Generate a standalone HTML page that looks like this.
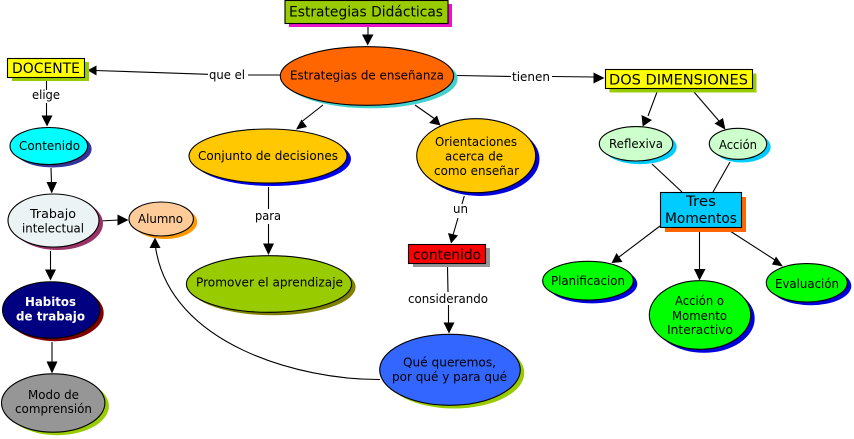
<!DOCTYPE html>
<html><head><meta charset="utf-8"><style>
html,body{margin:0;padding:0;background:#fff}
svg{display:block}
text{font-family:"DejaVu Sans","Liberation Sans",sans-serif;font-size:12.5px;fill:#000}
.b{font-size:14px}
line,path.c{stroke:#000;stroke-width:1.1;fill:none}
polygon{fill:#000}
ellipse.n,rect.n{stroke:#000;stroke-width:1.1}
</style></head><body>
<svg width="854" height="439" viewBox="0 0 854 439" xmlns="http://www.w3.org/2000/svg">
<rect width="854" height="439" fill="#fff"/>
<!-- connectors -->
<line x1="368" y1="26" x2="368" y2="36"/><polygon points="367.7,45.5 362,34.5 373.5,34.5"/>
<line x1="280" y1="75" x2="248" y2="75"/><line x1="208" y1="74.3" x2="95" y2="70.5"/><polygon points="87.5,70.3 96.5,65.5 96.5,75.5"/>
<line x1="46.5" y1="81" x2="46.5" y2="90"/><line x1="46.5" y1="103" x2="46.5" y2="117"/><polygon points="47,126.5 41.5,115.5 52.5,115.5"/>
<line x1="51" y1="168" x2="51.5" y2="183"/><polygon points="51.7,193.5 46.5,182 57,182"/>
<line x1="100" y1="221" x2="119" y2="220"/><polygon points="128.5,220 117.5,214.5 117.5,225.5"/>
<line x1="50.5" y1="251" x2="50.5" y2="271"/><polygon points="50.5,280.5 45,269.5 56,269.5"/>
<line x1="52" y1="342" x2="52" y2="363"/><polygon points="52,373.5 46.5,361.5 57.5,361.5"/>
<path class="c" d="M380 379.5C300 380 170 345 155.5 247"/><polygon points="155,237.5 149.5,248 160.5,248"/>
<line x1="323" y1="105" x2="300" y2="123"/><polygon points="296,129.5 301.5,119.5 307,127"/>
<line x1="415" y1="105" x2="435" y2="119"/><polygon points="440.5,125.5 437,115.5 429,123"/>
<line x1="268.5" y1="187" x2="268.5" y2="209"/><line x1="268.5" y1="224" x2="268.5" y2="245"/><polygon points="268.5,255 263,243.5 274,243.5"/>
<line x1="464.3" y1="196" x2="462" y2="204"/><line x1="458" y1="218" x2="453" y2="235"/><polygon points="451,243.5 448,233 458,235.5"/>
<line x1="447.5" y1="267" x2="448" y2="292"/><line x1="448.5" y1="305" x2="448.5" y2="324"/><polygon points="449,333.5 443.5,322.5 454.5,322.5"/>
<line x1="457" y1="75.5" x2="511" y2="76.5"/><line x1="552" y1="76.5" x2="595" y2="77"/><polygon points="604.5,78 593.5,72.5 593.5,83.5"/>
<line x1="657" y1="92" x2="648" y2="116"/><polygon points="642.7,126.5 641.5,115 652,120"/>
<line x1="694" y1="92" x2="719" y2="121"/><polygon points="725.5,129.8 714.5,123.5 723,118"/>
<line x1="652" y1="164" x2="682" y2="192"/><line x1="730" y1="162" x2="713" y2="192"/>
<line x1="660" y1="226" x2="619" y2="257"/><polygon points="611.5,263 616.5,253 622.5,262"/>
<line x1="699.5" y1="231" x2="699.5" y2="270"/><polygon points="699.5,280.5 694,269 705.5,269"/>
<line x1="730" y1="231" x2="775" y2="260"/><polygon points="783,266.5 776,256.5 772,264.5"/>
<!-- link labels -->
<text x="209" y="79" textLength="36" lengthAdjust="spacingAndGlyphs">que el</text>
<text x="32" y="99" textLength="28" lengthAdjust="spacingAndGlyphs">elige</text>
<text x="255" y="220" textLength="26" lengthAdjust="spacingAndGlyphs">para</text>
<text x="453" y="213" textLength="15" lengthAdjust="spacingAndGlyphs">un</text>
<text x="408" y="303" textLength="80" lengthAdjust="spacingAndGlyphs">considerando</text>
<text x="512" y="81" textLength="38" lengthAdjust="spacingAndGlyphs">tienen</text>
<!-- Estrategias Didácticas -->
<rect x="289" y="4" width="163" height="23" fill="#e815c8"/><rect class="n" x="285" y="0.5" width="163" height="23" fill="#99cc00"/>
<text class="b" x="289" y="16.5" textLength="154" lengthAdjust="spacingAndGlyphs">Estrategias Didácticas</text>
<!-- Estrategias de enseñanza -->
<ellipse cx="371" cy="79" rx="86.7" ry="29.3" fill="#45d0d0"/><ellipse class="n" cx="367" cy="76" rx="86.7" ry="29.3" fill="#ff6600"/>
<text x="290" y="79.5" textLength="154" lengthAdjust="spacingAndGlyphs">Estrategias de enseñanza</text>
<!-- DOCENTE -->
<rect x="12" y="62" width="77" height="19" fill="#99cc00"/><rect class="n" x="7.5" y="58.5" width="77" height="19" fill="#ffff00"/>
<text class="b" x="12" y="73" textLength="68" lengthAdjust="spacingAndGlyphs">DOCENTE</text>
<!-- Contenido -->
<ellipse cx="52.8" cy="149" rx="38.8" ry="18.5" fill="#333399"/><ellipse class="n" cx="48.8" cy="146" rx="38.8" ry="18.5" fill="#00ffff"/>
<text x="19" y="150" textLength="61" lengthAdjust="spacingAndGlyphs">Contenido</text>
<!-- Trabajo intelectual -->
<ellipse cx="57.5" cy="223.5" rx="45.5" ry="26.5" fill="#993366"/><ellipse class="n" cx="53.5" cy="220.5" rx="45.5" ry="26.5" fill="#ebf3f5"/>
<text x="30" y="218" textLength="46" lengthAdjust="spacingAndGlyphs">Trabajo</text>
<text x="22" y="232.5" textLength="62" lengthAdjust="spacingAndGlyphs">intelectual</text>
<!-- Alumno -->
<ellipse cx="165" cy="222" rx="32.2" ry="17" fill="#ff9900"/><ellipse class="n" cx="161.2" cy="219" rx="32.2" ry="17" fill="#ffcc99"/>
<text x="138" y="223" textLength="45" lengthAdjust="spacingAndGlyphs">Alumno</text>
<!-- Habitos -->
<ellipse cx="55" cy="313" rx="48.7" ry="28.2" fill="#800000"/><ellipse class="n" cx="51.2" cy="310" rx="48.7" ry="28.2" fill="#000080"/>
<text x="25" y="306" textLength="51" lengthAdjust="spacingAndGlyphs" font-weight="bold" style="fill:#fff">Habitos</text>
<text x="16" y="320.7" textLength="69" lengthAdjust="spacingAndGlyphs" font-weight="bold" style="fill:#fff">de trabajo</text>
<!-- Modo -->
<ellipse cx="57.2" cy="406" rx="51.7" ry="29.2" fill="#99cc00"/><ellipse class="n" cx="53.2" cy="403" rx="51.7" ry="29.2" fill="#969696"/>
<text x="28" y="399" textLength="51" lengthAdjust="spacingAndGlyphs">Modo de</text>
<text x="15" y="413" textLength="77" lengthAdjust="spacingAndGlyphs">comprensión</text>
<!-- Conjunto -->
<ellipse cx="272" cy="159" rx="79" ry="27" fill="#0000ee"/><ellipse class="n" cx="268" cy="156" rx="79" ry="27" fill="#ffc800"/>
<text x="198" y="160" textLength="140" lengthAdjust="spacingAndGlyphs">Conjunto de decisiones</text>
<!-- Promover -->
<ellipse cx="273" cy="287" rx="82.6" ry="28.3" fill="#808000"/><ellipse class="n" cx="269" cy="284" rx="82.6" ry="28.3" fill="#99cc00"/>
<text x="196" y="286.7" textLength="147" lengthAdjust="spacingAndGlyphs">Promover el aprendizaje</text>
<!-- Orientaciones -->
<ellipse cx="480" cy="159" rx="59.5" ry="37" fill="#0000dd"/><ellipse class="n" cx="476.2" cy="155.7" rx="59.5" ry="37" fill="#ffc800"/>
<text x="435" y="146" textLength="82" lengthAdjust="spacingAndGlyphs">Orientaciones</text>
<text x="445" y="160.5" textLength="58" lengthAdjust="spacingAndGlyphs">acerca de</text>
<text x="434" y="175" textLength="85" lengthAdjust="spacingAndGlyphs">como enseñar</text>
<!-- contenido box -->
<rect x="413" y="248" width="77" height="19" fill="#969696"/><rect class="n" x="408.5" y="244.5" width="77" height="19" fill="#ff0000"/>
<text class="b" x="413" y="259.3" textLength="68" lengthAdjust="spacingAndGlyphs">contenido</text>
<!-- Qué queremos -->
<ellipse cx="454" cy="373" rx="70.3" ry="35.5" fill="#99cc00"/><ellipse class="n" cx="450" cy="369.8" rx="70.3" ry="35.5" fill="#3366ff"/>
<text x="403" y="366.7" textLength="93" lengthAdjust="spacingAndGlyphs">Qué queremos,</text>
<text x="392" y="381" textLength="115" lengthAdjust="spacingAndGlyphs">por qué y para qué</text>
<!-- DOS DIMENSIONES -->
<rect x="609.5" y="73.5" width="147" height="19" fill="#99cc00"/><rect class="n" x="605.5" y="69.5" width="147" height="19" fill="#ffff00"/>
<text class="b" x="609" y="84.3" textLength="139" lengthAdjust="spacingAndGlyphs">DOS DIMENSIONES</text>
<!-- Reflexiva -->
<ellipse cx="640" cy="147" rx="36.7" ry="17.2" fill="#00ccff"/><ellipse class="n" cx="636" cy="143.8" rx="36.7" ry="17.2" fill="#ccffcc"/>
<text x="609" y="148" textLength="54" lengthAdjust="spacingAndGlyphs">Reflexiva</text>
<!-- Acción -->
<ellipse cx="742" cy="147" rx="28.7" ry="15.5" fill="#00ccff"/><ellipse class="n" cx="738" cy="143.8" rx="28.7" ry="15.5" fill="#ccffcc"/>
<text x="719" y="149" textLength="38" lengthAdjust="spacingAndGlyphs">Acción</text>
<!-- Tres Momentos -->
<rect x="665" y="197" width="81" height="35" fill="#ff6600"/><rect class="n" x="660.5" y="192.5" width="81" height="35" fill="#00ccff"/>
<text class="b" x="686" y="206" textLength="30" lengthAdjust="spacingAndGlyphs">Tres</text>
<text class="b" x="665" y="223" textLength="72" lengthAdjust="spacingAndGlyphs">Momentos</text>
<!-- Planificacion -->
<ellipse cx="592" cy="284" rx="45.3" ry="19.4" fill="#0000dd"/><ellipse class="n" cx="588" cy="280.7" rx="45.3" ry="19.4" fill="#00ff00"/>
<text x="551" y="285" textLength="74" lengthAdjust="spacingAndGlyphs">Planificacion</text>
<!-- Acción o Momento -->
<ellipse cx="704" cy="318.5" rx="50.7" ry="34.3" fill="#0000dd"/><ellipse class="n" cx="700" cy="315" rx="50.7" ry="34.3" fill="#00ff00"/>
<text x="675" y="305" textLength="49" lengthAdjust="spacingAndGlyphs">Acción o</text>
<text x="672" y="320" textLength="55" lengthAdjust="spacingAndGlyphs">Momento</text>
<text x="667" y="334" textLength="66" lengthAdjust="spacingAndGlyphs">Interactivo</text>
<!-- Evaluación -->
<ellipse cx="810.8" cy="286" rx="40.5" ry="19.2" fill="#0000dd"/><ellipse class="n" cx="806.8" cy="282.8" rx="40.5" ry="19.2" fill="#00ff00"/>
<text x="775" y="288" textLength="64" lengthAdjust="spacingAndGlyphs">Evaluación</text>
</svg>
</body></html>
